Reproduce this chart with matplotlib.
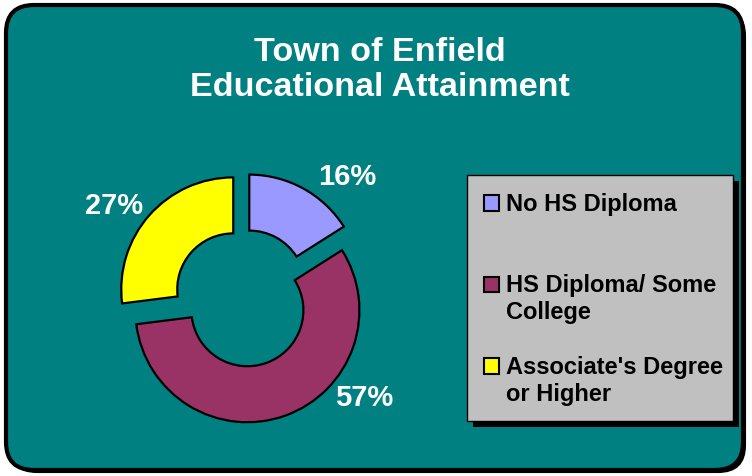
import numpy as np
import matplotlib
matplotlib.use('Agg')
import matplotlib.pyplot as plt
import matplotlib.patheffects as pe
from matplotlib.patches import FancyBboxPatch, Rectangle, Wedge
from matplotlib.legend_handler import HandlerPatch

# DATA ######################################################################
categories = ['No HS Diploma\n', 'HS Diploma/ Some\nCollege',
              "Associate's Degree\nor Higher"]
shares = [16, 57, 27]
pct_labels = ['16%', '57%', '27%']

# STYLE #####################################################################
colors = ['#9999FF', '#993366', '#FFFF00']
teal = '#008080'
font = 'Liberation Sans'
W, H = 752, 477
pie_center = (243, 178)      # pixels, y up
pie_radius = 112
ring_width = 56
explode_frac = 0.116
# where the percentage labels sit: (angle in deg, distance in radii)
label_pos = [(49.6, 1.43), (-39.3, 1.40), (144.1, 1.42)]

fig = plt.figure(figsize=(W / 100, H / 100), dpi=100, facecolor='white')
ax = fig.add_axes([0, 0, 1, 1])

# rounded teal panel with black border and shadow
panel = FancyBboxPatch((6 + 28, 6 + 28), W - 12 - 2 * 28 - 3, H - 10 - 2 * 28 - 2,
                       boxstyle='round,pad=28', facecolor=teal,
                       edgecolor='black', linewidth=3, zorder=0)
panel.set_path_effects([pe.SimplePatchShadow(offset=(2.2, -2.2),
                                             shadow_rgbFace='black', alpha=1),
                        pe.Normal()])
ax.add_patch(panel)

# donut
wedges, _ = ax.pie(shares, colors=colors, startangle=90, counterclock=False,
                   explode=[explode_frac * pie_radius] * len(shares),
                   radius=pie_radius, center=pie_center, frame=True,
                   wedgeprops=dict(width=ring_width, edgecolor='black',
                                   linewidth=1.6))

for txt, (ang, dist) in zip(pct_labels, label_pos):
    a = np.deg2rad(ang)
    ax.text(pie_center[0] + dist * pie_radius * np.cos(a),
            pie_center[1] + dist * pie_radius * np.sin(a), txt,
            ha='center', va='center', color='white', fontsize=21,
            fontweight='bold', family=font)

# title
ax.text(380, H - 70, 'Town of Enfield\nEducational Attainment',
        ha='center', va='center', color='white', fontsize=24.6,
        fontweight='bold', family=font, linespacing=1.17)


def top_square(legend, orig_handle, xdescent, ydescent, width, height,
               fontsize):
    return Rectangle((-xdescent, -ydescent + 0.6 * fontsize), width, height)


leg = ax.legend(wedges, categories, loc='upper left',
                bbox_to_anchor=(467, H - 419, 266, 243),
                bbox_transform=ax.transData, mode='expand', borderaxespad=0,
                fancybox=False, framealpha=1, facecolor='#C0C0C0',
                edgecolor='black',
                prop=dict(family=font, weight='bold', size=17),
                handlelength=0.65, handleheight=0.65, handletextpad=0.3,
                borderpad=0.7, labelspacing=1.36,
                handler_map={Wedge: HandlerPatch(patch_func=top_square)})
leg.get_frame().set_linewidth(1)
leg.get_frame().set_path_effects([pe.SimplePatchShadow(offset=(4, -4),
                                                       shadow_rgbFace='black',
                                                       alpha=1),
                                  pe.Normal()])
for h in leg.legend_handles:
    h.set_linewidth(1.5)

ax.set_xlim(0, W)
ax.set_ylim(0, H)
ax.set_aspect('equal')
ax.axis('off')

fig.savefig('out.png', dpi=100, facecolor='white')
